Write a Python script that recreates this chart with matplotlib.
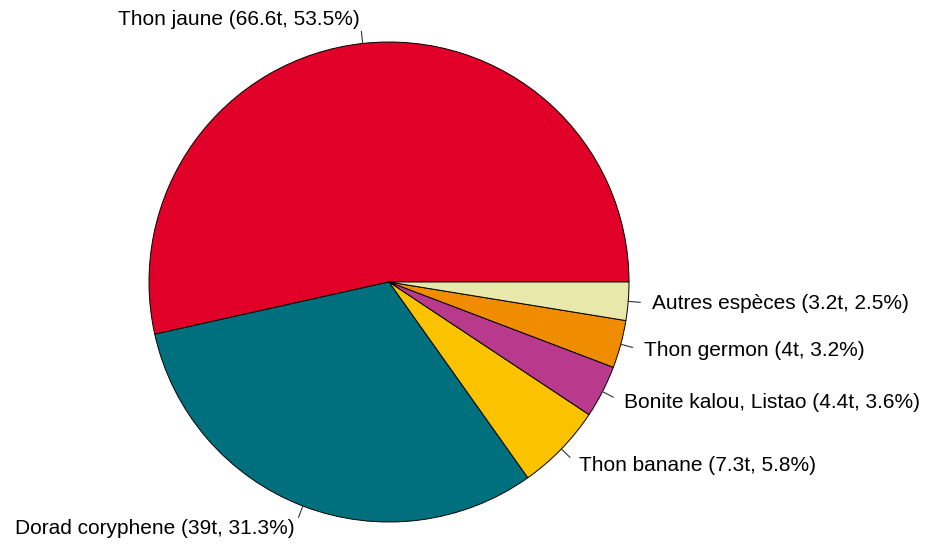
import numpy as np
import matplotlib.pyplot as plt

plt.rcParams['font.family'] = ['Liberation Sans', 'DejaVu Sans']

# Données
especes = ['Thon jaune', 'Dorad coryphene', 'Thon banane',
           'Bonite kalou, Listao', 'Thon germon', 'Autres espèces']
tonnes = np.array([66.6, 39, 7.3, 4.4, 4, 3.2])
tonnes_txt = ['66.6', '39', '7.3', '4.4', '4', '3.2']
pourcent = ['53.5', '31.3', '5.8', '3.6', '3.2', '2.5']
couleurs = ['#E00028', '#00707F', '#FBC200', '#B93A8D', '#F08C00', '#E8E8AA']

# Géométrie (centre et rayon en pixels)
cx, cy, r = 389, 282, 240
W, H = 926, 544

fig = plt.figure(figsize=(W / 100, H / 100), dpi=100)
ax = fig.add_axes([0, 0, 1, 1])

ax.pie(tonnes, colors=couleurs, startangle=0, counterclock=True, radius=1,
       wedgeprops=dict(edgecolor='black', linewidth=0.7))

# Étiquettes à la manière de R
cum = np.concatenate([[0], np.cumsum(tonnes)]) / tonnes.sum()
for i, nom in enumerate(especes):
    a = np.pi * (cum[i] + cum[i + 1])
    c, s = np.cos(a), np.sin(a)
    ax.plot([c, 1.05 * c], [s, 1.05 * s], color='#333333', lw=0.8)
    ax.text(1.1 * c, 1.1 * s, f'{nom} ({tonnes_txt[i]}t, {pourcent[i]}%)',
            ha='left' if c > 0 else 'right', va='center', fontsize=15)

ax.set_xlim(-cx / r, (W - cx) / r)
ax.set_ylim(-(H - cy) / r, cy / r)
ax.set_aspect('equal')
ax.axis('off')

fig.savefig('out.png', dpi=100)
